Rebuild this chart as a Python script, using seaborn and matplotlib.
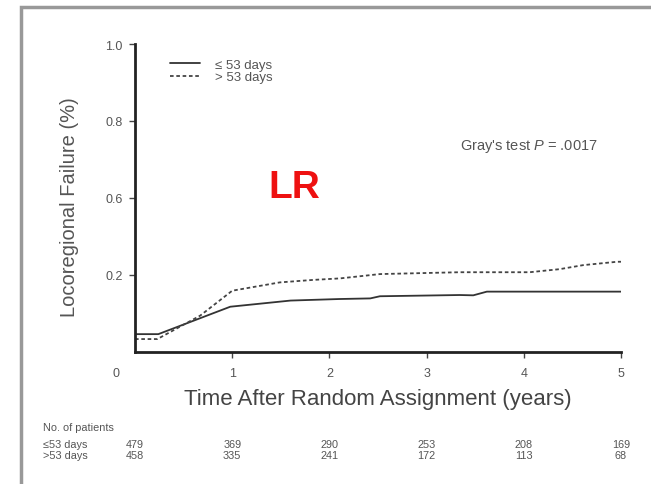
import numpy as np
import pandas as pd
import seaborn as sns
import matplotlib
matplotlib.use("Agg")
import matplotlib.pyplot as plt
from matplotlib.patches import Rectangle
from matplotlib.transforms import blended_transform_factory, ScaledTranslation

# ---- data (y in axis units, top = 1.0) ----
le53_years = [0.0, 0.24, 0.98, 1.6, 2.1, 2.42, 2.52, 3.34, 3.48, 3.62, 5.02]
le53_fail = [0.058, 0.058, 0.147, 0.167, 0.172, 0.174, 0.181, 0.185, 0.184, 0.196, 0.196]
gt53_years = [0.0, 0.23, 0.67, 1.0, 1.49, 1.83, 2.11, 2.52, 3.34, 4.06, 4.37, 4.61, 4.96, 5.02]
gt53_fail = [0.042, 0.042, 0.118, 0.199, 0.226, 0.234, 0.239, 0.253, 0.259, 0.259, 0.269, 0.282, 0.293, 0.293]
group_labels = ["\u2264 53 days", "> 53 days"]

y_ticks = [0.25, 0.5, 0.75, 1.0]
y_tick_labels = ["0.2", "0.6", "0.8", "1.0"]
x_ticks = [0, 1, 2, 3, 4, 5]
x_tick_labels = ["0", "1", "2", "3", "4", "5"]

risk_times = [0, 1, 2, 3, 4, 5]
risk_le53 = [479, 369, 290, 253, 208, 169]
risk_gt53 = [458, 335, 241, 172, 113, 68]
risk_row_labels = ["\u226453 days", ">53 days"]

df = pd.concat([
    pd.DataFrame({"years": le53_years, "fail": le53_fail, "group": group_labels[0]}),
    pd.DataFrame({"years": gt53_years, "fail": gt53_fail, "group": group_labels[1]}),
])

sns.set_style("white")
plt.rcParams["font.family"] = ["Liberation Sans", "DejaVu Sans"]
plt.rcParams["mathtext.fontset"] = "custom"
plt.rcParams["mathtext.it"] = "Liberation Sans:italic"
plt.rcParams["mathtext.rm"] = "Liberation Sans"

fig = plt.figure(figsize=(6.51, 4.85), dpi=100)
W, H = 651, 485
ax = fig.add_axes([135 / W, 1 - 353 / H, (621 - 135) / W, 308 / H])

sns.lineplot(data=df, x="years", y="fail", hue="group", style="group",
             palette={group_labels[0]: "#333333", group_labels[1]: "#444444"},
             dashes={group_labels[0]: "", group_labels[1]: (2, 1.5)},
             linewidth=1.3, ax=ax, estimator=None, sort=False)

ax.set_xlim(0, 5)
ax.set_ylim(0, 1.0)
ax.set_xticks(x_ticks)
ax.set_xticklabels(x_tick_labels)
ax.set_yticks(y_ticks)
ax.set_yticklabels(y_tick_labels)
for s in ["top", "right"]:
    ax.spines[s].set_visible(False)
for s in ["left", "bottom"]:
    ax.spines[s].set_color("#222222")
    ax.spines[s].set_linewidth(2.0)
ax.tick_params(axis="both", direction="out", length=4, width=1, color="#444444",
               labelsize=9, labelcolor="#555555", left=True, bottom=True)
ax.tick_params(axis="x", pad=7)
ax.tick_params(axis="y", pad=5)
# shift "0" label left of origin
lbl0 = ax.get_xticklabels()[0]
lbl0.set_transform(lbl0.get_transform() + ScaledTranslation(-19 / 100, 0, fig.dpi_scale_trans))
ax.xaxis.get_major_ticks()[0].tick1line.set_visible(False)

ax.set_xlabel("Time After Random Assignment (years)", fontsize=16, color="#444444", labelpad=6)
ax.set_ylabel("Locoregional Failure (%)", fontsize=14.5, color="#555555")
ax.yaxis.set_label_coords(-0.115, 0.475)

leg = ax.legend(loc="upper left", bbox_to_anchor=(0.058, 0.975), frameon=False,
                fontsize=9.5, handlelength=2.3, handletextpad=1.1, labelspacing=0.05,
                borderpad=0, labelcolor="#555555")

ax.text(0.669, 0.672, r"Gray's test $\mathit{P}$ = .0017", transform=ax.transAxes,
        fontsize=10.5, color="#555555", ha="left", va="center")

fig.text(268 / W, 1 - 188 / H, "LR", fontsize=28, fontweight="bold", color="#ee1111",
         ha="left", va="center")

# risk table
tr = blended_transform_factory(ax.transData, fig.transFigure)
fig.text(43 / W, 1 - 428 / H, "No. of patients", fontsize=7.8, color="#555555", va="center")
for row, (lab, vals) in enumerate(zip(risk_row_labels, [risk_le53, risk_gt53])):
    yy = 1 - (445 + 11 * row) / H
    fig.text(43 / W, yy, lab, fontsize=7.8, color="#555555", va="center")
    for t, v in zip(risk_times, vals):
        ax.text(t, yy, str(v), transform=tr, fontsize=7.8, color="#555555",
                ha="center", va="center")

# outer gray frame
fig.patches.append(Rectangle((21 / W, -0.2), 1.2, 1 - 8 / H + 0.2, transform=fig.transFigure,
                             fill=False, edgecolor="#999999", linewidth=2.5))

fig.savefig("out.png", dpi=100, facecolor="white")
